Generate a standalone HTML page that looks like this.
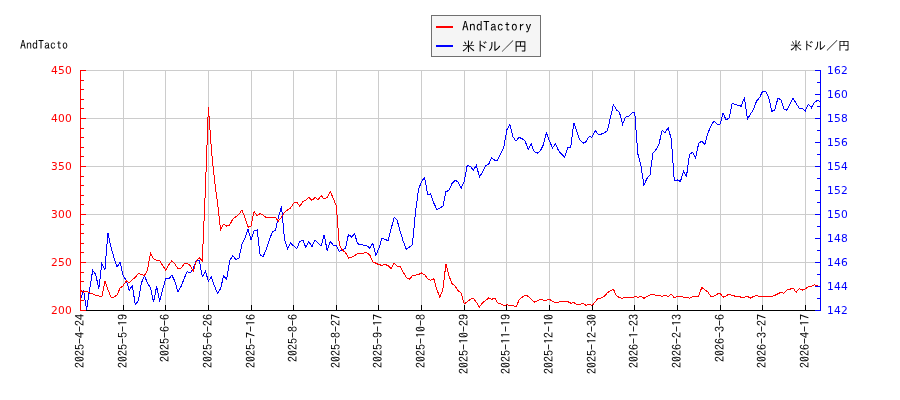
<!DOCTYPE html>
<html lang="ja"><head><meta charset="utf-8"><title>AndTactory 米ドル／円</title>
<style>
html,body{margin:0;padding:0;background:#fff;}
body{width:900px;height:400px;overflow:hidden;position:relative;}
svg{position:absolute;left:0;top:0;display:block;}
.jp{font-family:"IPAGothic","Liberation Mono","Noto Sans CJK JP",monospace;}
.num{font-family:"DejaVu Sans","Liberation Sans",sans-serif;font-size:10.67px;}
</style></head><body>
<svg width="900" height="400" viewBox="0 0 900 400">
<rect x="0" y="0" width="900" height="400" fill="#ffffff"/>

<g shape-rendering="crispEdges" fill="#cccccc">
<rect x="123" y="70" width="1" height="240"/>
<rect x="165" y="70" width="1" height="240"/>
<rect x="208" y="70" width="1" height="240"/>
<rect x="251" y="70" width="1" height="240"/>
<rect x="293" y="70" width="1" height="240"/>
<rect x="336" y="70" width="1" height="240"/>
<rect x="378" y="70" width="1" height="240"/>
<rect x="421" y="70" width="1" height="240"/>
<rect x="464" y="70" width="1" height="240"/>
<rect x="506" y="70" width="1" height="240"/>
<rect x="549" y="70" width="1" height="240"/>
<rect x="592" y="70" width="1" height="240"/>
<rect x="634" y="70" width="1" height="240"/>
<rect x="677" y="70" width="1" height="240"/>
<rect x="720" y="70" width="1" height="240"/>
<rect x="762" y="70" width="1" height="240"/>
<rect x="805" y="70" width="1" height="240"/>
<rect x="81" y="70" width="739" height="1"/>
<rect x="81" y="118" width="739" height="1"/>
<rect x="81" y="166" width="739" height="1"/>
<rect x="81" y="214" width="739" height="1"/>
<rect x="81" y="262" width="739" height="1"/>
</g>
<polyline shape-rendering="crispEdges" fill="none" stroke="#0000ff" stroke-width="1" points="80.5,300.0 83.5,290.2 86.6,309.8 89.6,289.5 92.7,270.3 95.7,274.5 98.8,288.8 101.8,264.0 104.9,270.0 107.9,233.0 111.0,247.0 114.0,258.0 117.0,267.0 120.1,262.5 123.1,275.2 126.2,280.5 129.2,290.2 132.3,285.8 135.3,304.5 138.4,300.8 141.4,282.8 144.5,276.0 147.5,282.8 150.5,288.0 153.6,302.2 156.6,286.5 159.7,301.5 162.7,289.5 165.8,278.2 168.8,279.0 171.9,275.2 174.9,281.2 177.9,291.8 181.0,286.5 184.0,279.0 187.1,271.5 190.1,273.0 193.2,268.5 196.2,261.0 199.3,260.2 202.3,276.8 205.4,271.2 208.4,281.0 211.4,277.2 214.5,286.2 217.5,293.3 220.6,288.5 223.6,275.8 226.7,279.2 229.7,260.8 232.8,255.5 235.8,259.5 238.9,258.5 241.9,244.5 244.9,238.5 248.0,229.2 251.0,240.0 254.1,231.0 257.1,229.8 260.2,255.5 263.2,256.2 266.3,249.3 269.3,240.0 272.4,231.8 275.4,230.2 278.4,217.5 281.5,206.2 284.5,239.2 287.6,249.0 290.6,243.0 293.7,246.0 296.7,249.0 299.8,241.5 302.8,240.0 305.8,247.5 308.9,241.5 311.9,246.8 315.0,240.0 318.0,243.0 321.1,246.0 324.1,234.8 327.2,250.5 330.2,241.5 333.3,245.2 336.3,245.6 339.3,251.2 342.4,250.0 345.4,248.5 348.5,234.3 351.5,237.0 354.6,233.7 357.6,243.8 360.7,244.5 363.7,245.2 366.8,245.7 369.8,248.2 372.8,243.3 375.9,255.6 378.9,248.2 382.0,238.3 385.0,239.2 388.1,241.0 391.1,228.8 394.2,217.5 397.2,220.5 400.3,231.7 403.3,241.5 406.3,249.2 409.4,247.2 412.4,244.8 415.5,212.2 418.5,189.5 421.6,181.2 424.6,177.5 427.7,194.8 430.7,193.7 433.8,203.0 436.8,209.5 439.8,208.2 442.9,206.2 445.9,191.8 449.0,190.2 452.0,183.5 455.1,180.2 458.1,182.0 461.2,188.3 464.2,181.2 467.2,165.5 470.3,166.2 473.3,170.0 476.4,165.5 479.4,176.8 482.5,172.2 485.5,165.8 488.6,164.5 491.6,157.6 494.7,160.2 497.7,160.0 500.7,153.2 503.8,147.6 506.8,130.0 509.9,124.5 512.9,136.5 516.0,141.2 519.0,137.2 522.1,138.8 525.1,141.0 528.2,149.2 531.2,143.7 534.2,151.8 537.3,153.3 540.3,150.8 543.4,144.8 546.4,132.8 549.5,141.0 552.5,147.8 555.6,143.7 558.6,150.8 561.7,154.2 564.7,157.2 567.7,147.8 570.8,147.0 573.8,122.7 576.9,132.0 579.9,140.2 583.0,143.2 586.0,141.8 589.1,136.5 592.1,137.2 595.2,130.5 598.2,134.2 601.2,134.2 604.3,132.8 607.3,130.9 610.4,117.7 613.4,104.6 616.5,109.9 619.5,112.5 622.6,124.2 625.6,117.0 628.6,116.2 631.7,113.2 634.7,112.2 637.8,153.8 640.8,165.0 643.9,185.2 646.9,178.5 650.0,174.8 653.0,153.0 656.1,149.6 659.1,143.6 662.1,130.3 665.2,132.8 668.2,127.5 671.3,139.5 674.3,180.8 677.4,180.0 680.4,181.5 683.5,171.3 686.5,176.2 689.6,154.2 692.6,152.2 695.6,158.2 698.7,143.2 701.7,141.3 704.8,144.2 707.8,133.5 710.9,126.0 713.9,121.2 717.0,124.2 720.0,124.2 723.1,113.2 726.1,120.0 729.1,117.8 732.2,103.5 735.2,104.4 738.3,105.4 741.3,106.2 744.4,97.5 747.4,119.2 750.5,114.0 753.5,109.5 756.5,101.2 759.6,97.5 762.6,91.2 765.7,91.2 768.7,97.5 771.8,111.3 774.8,109.8 777.9,98.2 780.9,99.8 784.0,109.2 787.0,110.2 790.0,104.2 793.1,98.2 796.1,103.5 799.2,108.0 802.2,108.3 805.3,111.0 808.3,104.2 811.4,107.7 814.4,102.3 817.5,100.5 820.5,101.7"/>
<polyline shape-rendering="crispEdges" fill="none" stroke="#ff0000" stroke-width="1" points="80.5,290.2 83.5,292.2 86.6,291.4 89.6,292.8 92.7,294.0 95.7,295.5 98.8,296.0 101.8,296.7 104.9,281.2 107.9,289.5 111.0,297.0 114.0,297.0 117.0,295.0 120.1,288.0 123.1,285.8 126.2,280.8 129.2,282.8 132.3,279.8 135.3,277.5 138.4,273.3 141.4,274.5 144.5,275.5 147.5,270.0 150.5,253.0 153.6,258.8 156.6,260.2 159.7,260.7 162.7,265.5 165.8,270.3 168.8,264.8 171.9,260.6 174.9,264.0 177.9,268.5 181.0,268.2 184.0,264.0 187.1,263.2 190.1,265.5 193.2,271.5 196.2,261.0 199.3,258.0 202.3,261.0 205.4,189.0 208.4,107.0 211.4,150.0 214.5,180.0 217.5,203.0 220.6,230.2 223.6,224.2 226.7,226.2 229.7,225.0 232.8,219.0 235.8,216.8 238.9,214.5 241.9,210.0 244.9,217.5 248.0,227.2 251.0,226.2 254.1,211.2 257.1,216.0 260.2,213.3 263.2,215.2 266.3,217.5 269.3,217.5 272.4,217.5 275.4,217.5 278.4,221.0 281.5,217.2 284.5,212.3 287.6,210.0 290.6,208.0 293.7,203.0 296.7,202.2 299.8,206.4 302.8,201.6 305.8,200.4 308.9,197.4 311.9,200.4 315.0,197.4 318.0,200.0 321.1,195.6 324.1,199.0 327.2,197.5 330.2,191.3 333.3,198.5 336.3,206.0 339.3,245.0 342.4,250.2 345.4,252.4 348.5,258.0 351.5,257.2 354.6,255.8 357.6,253.4 360.7,253.4 363.7,253.0 366.8,252.6 369.8,255.0 372.8,261.8 375.9,263.2 378.9,264.8 382.0,265.2 385.0,264.3 388.1,265.8 391.1,268.8 394.2,263.2 397.2,266.2 400.3,266.7 403.3,272.2 406.3,277.5 409.4,279.3 412.4,275.7 415.5,275.2 418.5,274.5 421.6,273.0 424.6,274.8 427.7,278.7 430.7,280.2 433.8,278.7 436.8,289.5 439.8,297.0 442.9,289.5 445.9,264.0 449.0,276.0 452.0,283.5 455.1,286.0 458.1,290.7 461.2,293.0 464.2,304.0 467.2,301.8 470.3,299.2 473.3,298.3 476.4,302.2 479.4,307.0 482.5,302.8 485.5,300.7 488.6,298.0 491.6,299.5 494.7,298.0 497.7,302.8 500.7,303.7 503.8,305.5 506.8,304.8 509.9,305.5 512.9,305.5 516.0,307.0 519.0,300.2 522.1,297.2 525.1,295.3 528.2,296.2 531.2,299.2 534.2,302.2 537.3,300.7 540.3,299.2 543.4,300.2 546.4,300.2 549.5,299.2 552.5,301.3 555.6,302.5 558.6,302.2 561.7,301.3 564.7,301.3 567.7,301.5 570.8,303.2 573.8,302.5 576.9,304.5 579.9,304.5 583.0,303.2 586.0,305.5 589.1,304.4 592.1,305.5 595.2,301.8 598.2,298.3 601.2,298.0 604.3,296.5 607.3,292.8 610.4,290.9 613.4,289.3 616.5,295.8 619.5,297.7 622.6,298.3 625.6,297.2 628.6,297.2 631.7,298.0 634.7,296.5 637.8,297.2 640.8,296.5 643.9,298.3 646.9,296.5 650.0,295.0 653.0,294.2 656.1,295.3 659.1,295.3 662.1,296.5 665.2,295.3 668.2,296.5 671.3,294.2 674.3,297.7 677.4,296.2 680.4,296.2 683.5,297.2 686.5,297.2 689.6,298.3 692.6,296.8 695.6,296.2 698.7,296.2 701.7,287.5 704.8,289.8 707.8,292.0 710.9,296.5 713.9,296.2 717.0,294.2 720.0,293.2 723.1,297.2 726.1,295.8 729.1,294.2 732.2,295.3 735.2,296.2 738.3,296.5 741.3,297.2 744.4,297.2 747.4,296.5 750.5,298.0 753.5,296.5 756.5,295.3 759.6,296.5 762.6,296.5 765.7,296.5 768.7,296.5 771.8,296.5 774.8,295.3 777.9,293.8 780.9,292.4 784.0,293.2 787.0,289.8 790.0,289.3 793.1,287.8 796.1,292.3 799.2,288.7 802.2,290.2 805.3,288.7 808.3,286.8 811.4,286.3 814.4,284.8 817.5,285.9 820.5,286.6"/>
<g shape-rendering="crispEdges" fill="#000000">
<rect x="80" y="310" width="741" height="1"/>
<rect x="80" y="305" width="1" height="5"/>
<rect x="123" y="305" width="1" height="5"/>
<rect x="165" y="305" width="1" height="5"/>
<rect x="208" y="305" width="1" height="5"/>
<rect x="251" y="305" width="1" height="5"/>
<rect x="293" y="305" width="1" height="5"/>
<rect x="336" y="305" width="1" height="5"/>
<rect x="378" y="305" width="1" height="5"/>
<rect x="421" y="305" width="1" height="5"/>
<rect x="464" y="305" width="1" height="5"/>
<rect x="506" y="305" width="1" height="5"/>
<rect x="549" y="305" width="1" height="5"/>
<rect x="592" y="305" width="1" height="5"/>
<rect x="634" y="305" width="1" height="5"/>
<rect x="677" y="305" width="1" height="5"/>
<rect x="720" y="305" width="1" height="5"/>
<rect x="762" y="305" width="1" height="5"/>
<rect x="805" y="305" width="1" height="5"/>
</g>
<g shape-rendering="crispEdges" fill="#ff0000">
<rect x="80" y="70" width="1" height="241"/>
<rect x="80" y="70" width="6" height="1"/>
<rect x="80" y="80" width="4" height="1"/>
<rect x="80" y="89" width="4" height="1"/>
<rect x="80" y="99" width="4" height="1"/>
<rect x="80" y="108" width="4" height="1"/>
<rect x="80" y="118" width="6" height="1"/>
<rect x="80" y="128" width="4" height="1"/>
<rect x="80" y="137" width="4" height="1"/>
<rect x="80" y="147" width="4" height="1"/>
<rect x="80" y="156" width="4" height="1"/>
<rect x="80" y="166" width="6" height="1"/>
<rect x="80" y="176" width="4" height="1"/>
<rect x="80" y="185" width="4" height="1"/>
<rect x="80" y="195" width="4" height="1"/>
<rect x="80" y="204" width="4" height="1"/>
<rect x="80" y="214" width="6" height="1"/>
<rect x="80" y="224" width="4" height="1"/>
<rect x="80" y="233" width="4" height="1"/>
<rect x="80" y="243" width="4" height="1"/>
<rect x="80" y="252" width="4" height="1"/>
<rect x="80" y="262" width="6" height="1"/>
<rect x="80" y="272" width="4" height="1"/>
<rect x="80" y="281" width="4" height="1"/>
<rect x="80" y="291" width="4" height="1"/>
<rect x="80" y="300" width="4" height="1"/>
<rect x="80" y="310" width="6" height="1"/>
</g>
<g shape-rendering="crispEdges" fill="#0000ff">
<rect x="820" y="70" width="1" height="241"/>
<rect x="815" y="70" width="6" height="1"/>
<rect x="817" y="82" width="4" height="1"/>
<rect x="815" y="94" width="6" height="1"/>
<rect x="817" y="106" width="4" height="1"/>
<rect x="815" y="118" width="6" height="1"/>
<rect x="817" y="130" width="4" height="1"/>
<rect x="815" y="142" width="6" height="1"/>
<rect x="817" y="154" width="4" height="1"/>
<rect x="815" y="166" width="6" height="1"/>
<rect x="817" y="178" width="4" height="1"/>
<rect x="815" y="190" width="6" height="1"/>
<rect x="817" y="202" width="4" height="1"/>
<rect x="815" y="214" width="6" height="1"/>
<rect x="817" y="226" width="4" height="1"/>
<rect x="815" y="238" width="6" height="1"/>
<rect x="817" y="250" width="4" height="1"/>
<rect x="815" y="262" width="6" height="1"/>
<rect x="817" y="274" width="4" height="1"/>
<rect x="815" y="286" width="6" height="1"/>
<rect x="817" y="298" width="4" height="1"/>
<rect x="815" y="310" width="6" height="1"/>
</g>
<g class="num" fill="#ff0000" text-anchor="start" letter-spacing="0.21">
<text x="51" y="74.3">450</text>
<text x="51" y="122.3">400</text>
<text x="51" y="170.3">350</text>
<text x="51" y="218.3">300</text>
<text x="51" y="266.3">250</text>
<text x="51" y="314.3">200</text>
</g>
<g class="num" fill="#0000ff" text-anchor="start" letter-spacing="0.21">
<text x="827" y="74.3">162</text>
<text x="827" y="98.3">160</text>
<text x="827" y="122.3">158</text>
<text x="827" y="146.3">156</text>
<text x="827" y="170.3">154</text>
<text x="827" y="194.3">152</text>
<text x="827" y="218.3">150</text>
<text x="827" y="242.3">148</text>
<text x="827" y="266.3">146</text>
<text x="827" y="290.3">144</text>
<text x="827" y="314.3">142</text>
</g>
<g class="jp" font-size="12" fill="#000000" text-anchor="end">
<text transform="translate(84.2,314) rotate(-90)">2025-4-24</text>
<text transform="translate(127.2,314) rotate(-90)">2025-5-19</text>
<text transform="translate(169.2,314) rotate(-90)">2025-6-6</text>
<text transform="translate(212.2,314) rotate(-90)">2025-6-26</text>
<text transform="translate(255.2,314) rotate(-90)">2025-7-16</text>
<text transform="translate(297.2,314) rotate(-90)">2025-8-6</text>
<text transform="translate(340.2,314) rotate(-90)">2025-8-27</text>
<text transform="translate(382.2,314) rotate(-90)">2025-9-17</text>
<text transform="translate(425.2,314) rotate(-90)">2025-10-8</text>
<text transform="translate(468.2,314) rotate(-90)">2025-10-29</text>
<text transform="translate(510.2,314) rotate(-90)">2025-11-19</text>
<text transform="translate(553.2,314) rotate(-90)">2025-12-10</text>
<text transform="translate(596.2,314) rotate(-90)">2025-12-30</text>
<text transform="translate(638.2,314) rotate(-90)">2026-1-23</text>
<text transform="translate(681.2,314) rotate(-90)">2026-2-13</text>
<text transform="translate(724.2,314) rotate(-90)">2026-3-6</text>
<text transform="translate(766.2,314) rotate(-90)">2026-3-27</text>
<text transform="translate(809.2,314) rotate(-90)">2026-4-17</text>
</g>
<text class="jp" font-size="12" x="20" y="49" fill="#000">AndTacto</text>
<text class="jp" font-size="12" x="790" y="50" fill="#000">米ドル／円</text>
<rect x="431.5" y="15.5" width="109" height="41" fill="#f5f5f5" stroke="#707070" stroke-width="1" shape-rendering="crispEdges"/>
<rect x="436" y="26" width="17" height="2" fill="#ff0000" shape-rendering="crispEdges"/>
<rect x="436" y="45" width="17" height="2" fill="#0000ff" shape-rendering="crispEdges"/>
<text class="jp" font-size="13.33" x="462" y="31" fill="#000" letter-spacing="0.33">AndTactory</text>
<text class="jp" font-size="13" x="462" y="50.5" fill="#000">米ドル／円</text>
</svg></body></html>
